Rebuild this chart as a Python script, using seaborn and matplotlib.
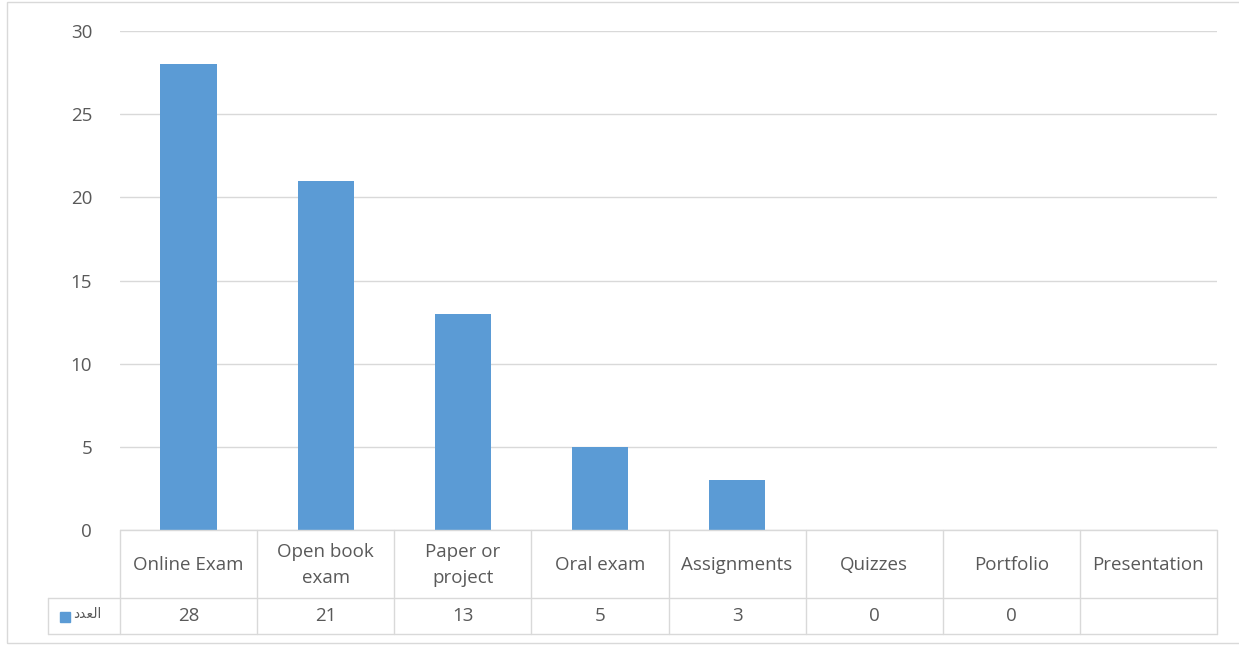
import numpy as np
import pandas as pd
import matplotlib
matplotlib.use("Agg")
import matplotlib.pyplot as plt
import seaborn as sns
from matplotlib.lines import Line2D
from matplotlib.patches import Rectangle

categories = ["Online Exam", "Open book\nexam", "Paper or\nproject", "Oral exam",
              "Assignments", "Quizzes", "Portfolio", "Presentation"]
values = [28, 21, 13, 5, 3, 0, 0, np.nan]
value_labels = ["28", "21", "13", "5", "3", "0", "0", ""]
series_name = "العدد"
# visual-order shaped form of the series name for display
series_display = "\uFEA9\uFEAA\uFECC\uFEDF\uFE8D"
yticks = [0, 5, 10, 15, 20, 25, 30]

W, H = 1239, 645
sns.set_theme(style="white")
plt.rcParams['font.family'] = ['Open Sans', 'DejaVu Sans']
TXT = "#595959"
GRID = "#D9D9D9"
BAR = "#5B9BD5"
FS = 13.5

fig = plt.figure(figsize=(W / 100, H / 100), dpi=100)
fig.patch.set_facecolor("white")

x0, x1 = 120, 1217
y_top, y_zero = 31, 530
ax = fig.add_axes([x0 / W, 1 - y_zero / H, (x1 - x0) / W, (y_zero - y_top) / H])

df = pd.DataFrame({"cat": categories, "val": values})
sns.barplot(data=df, x="cat", y="val", color=BAR, width=0.41, saturation=1,
            ax=ax, order=categories, linewidth=0, edgecolor="none")
ax.set_ylim(0, 30)
ax.set_xlim(-0.5, len(categories) - 0.5)
ax.set_yticks(yticks)
ax.set_yticklabels([str(t) for t in yticks], color=TXT, fontsize=FS)
ax.tick_params(axis="y", length=0, pad=20)
ax.set_xticks([])
ax.set_xlabel("")
ax.set_ylabel("")
for s in ax.spines.values():
    s.set_visible(False)
ax.grid(axis="y", color=GRID, linewidth=1)
ax.set_axisbelow(True)

# data table
def fx(px):
    return px / W
def fy(py):
    return 1 - py / H

row1_top, row1_bot, row2_bot = 530, 598, 634
leg_left = 48
cell_w = (x1 - x0) / len(categories)
lw = 1.0
lines = [
    ((x0, x1), (row1_top, row1_top)),
    ((leg_left, x1), (row1_bot, row1_bot)),
    ((leg_left, x1), (row2_bot, row2_bot)),
    ((leg_left, leg_left), (row1_bot, row2_bot)),
]
for i in range(len(categories) + 1):
    xx = x0 + i * cell_w
    lines.append(((xx, xx), (row1_top, row2_bot)))
for (xs, ys) in lines:
    fig.add_artist(Line2D([fx(xs[0]), fx(xs[1])], [fy(ys[0]), fy(ys[1])],
                          color=GRID, linewidth=lw, transform=fig.transFigure))

for i, (c, v) in enumerate(zip(categories, value_labels)):
    cx = x0 + (i + 0.5) * cell_w
    fig.text(fx(cx), fy((row1_top + row1_bot) / 2 + 1), c, ha="center", va="center",
             color=TXT, fontsize=FS, linespacing=1.55)
    fig.text(fx(cx), fy((row1_bot + row2_bot) / 2), v, ha="center", va="center",
             color=TXT, fontsize=FS)

# legend key in table
fig.add_artist(Rectangle((fx(60), fy(622)), 10 / W, 10 / H, color=BAR,
                         transform=fig.transFigure))
fig.text(fx(73), fy(614), series_display, ha="left", va="center", color=TXT,
         fontsize=10, family=['DejaVu Sans'])

# chart border
fig.add_artist(Rectangle((fx(7), fy(643)), (1250 - 7) / W, (643 - 2) / H,
                         fill=False, edgecolor=GRID, linewidth=1,
                         transform=fig.transFigure))

fig.savefig("out.png", dpi=100)
